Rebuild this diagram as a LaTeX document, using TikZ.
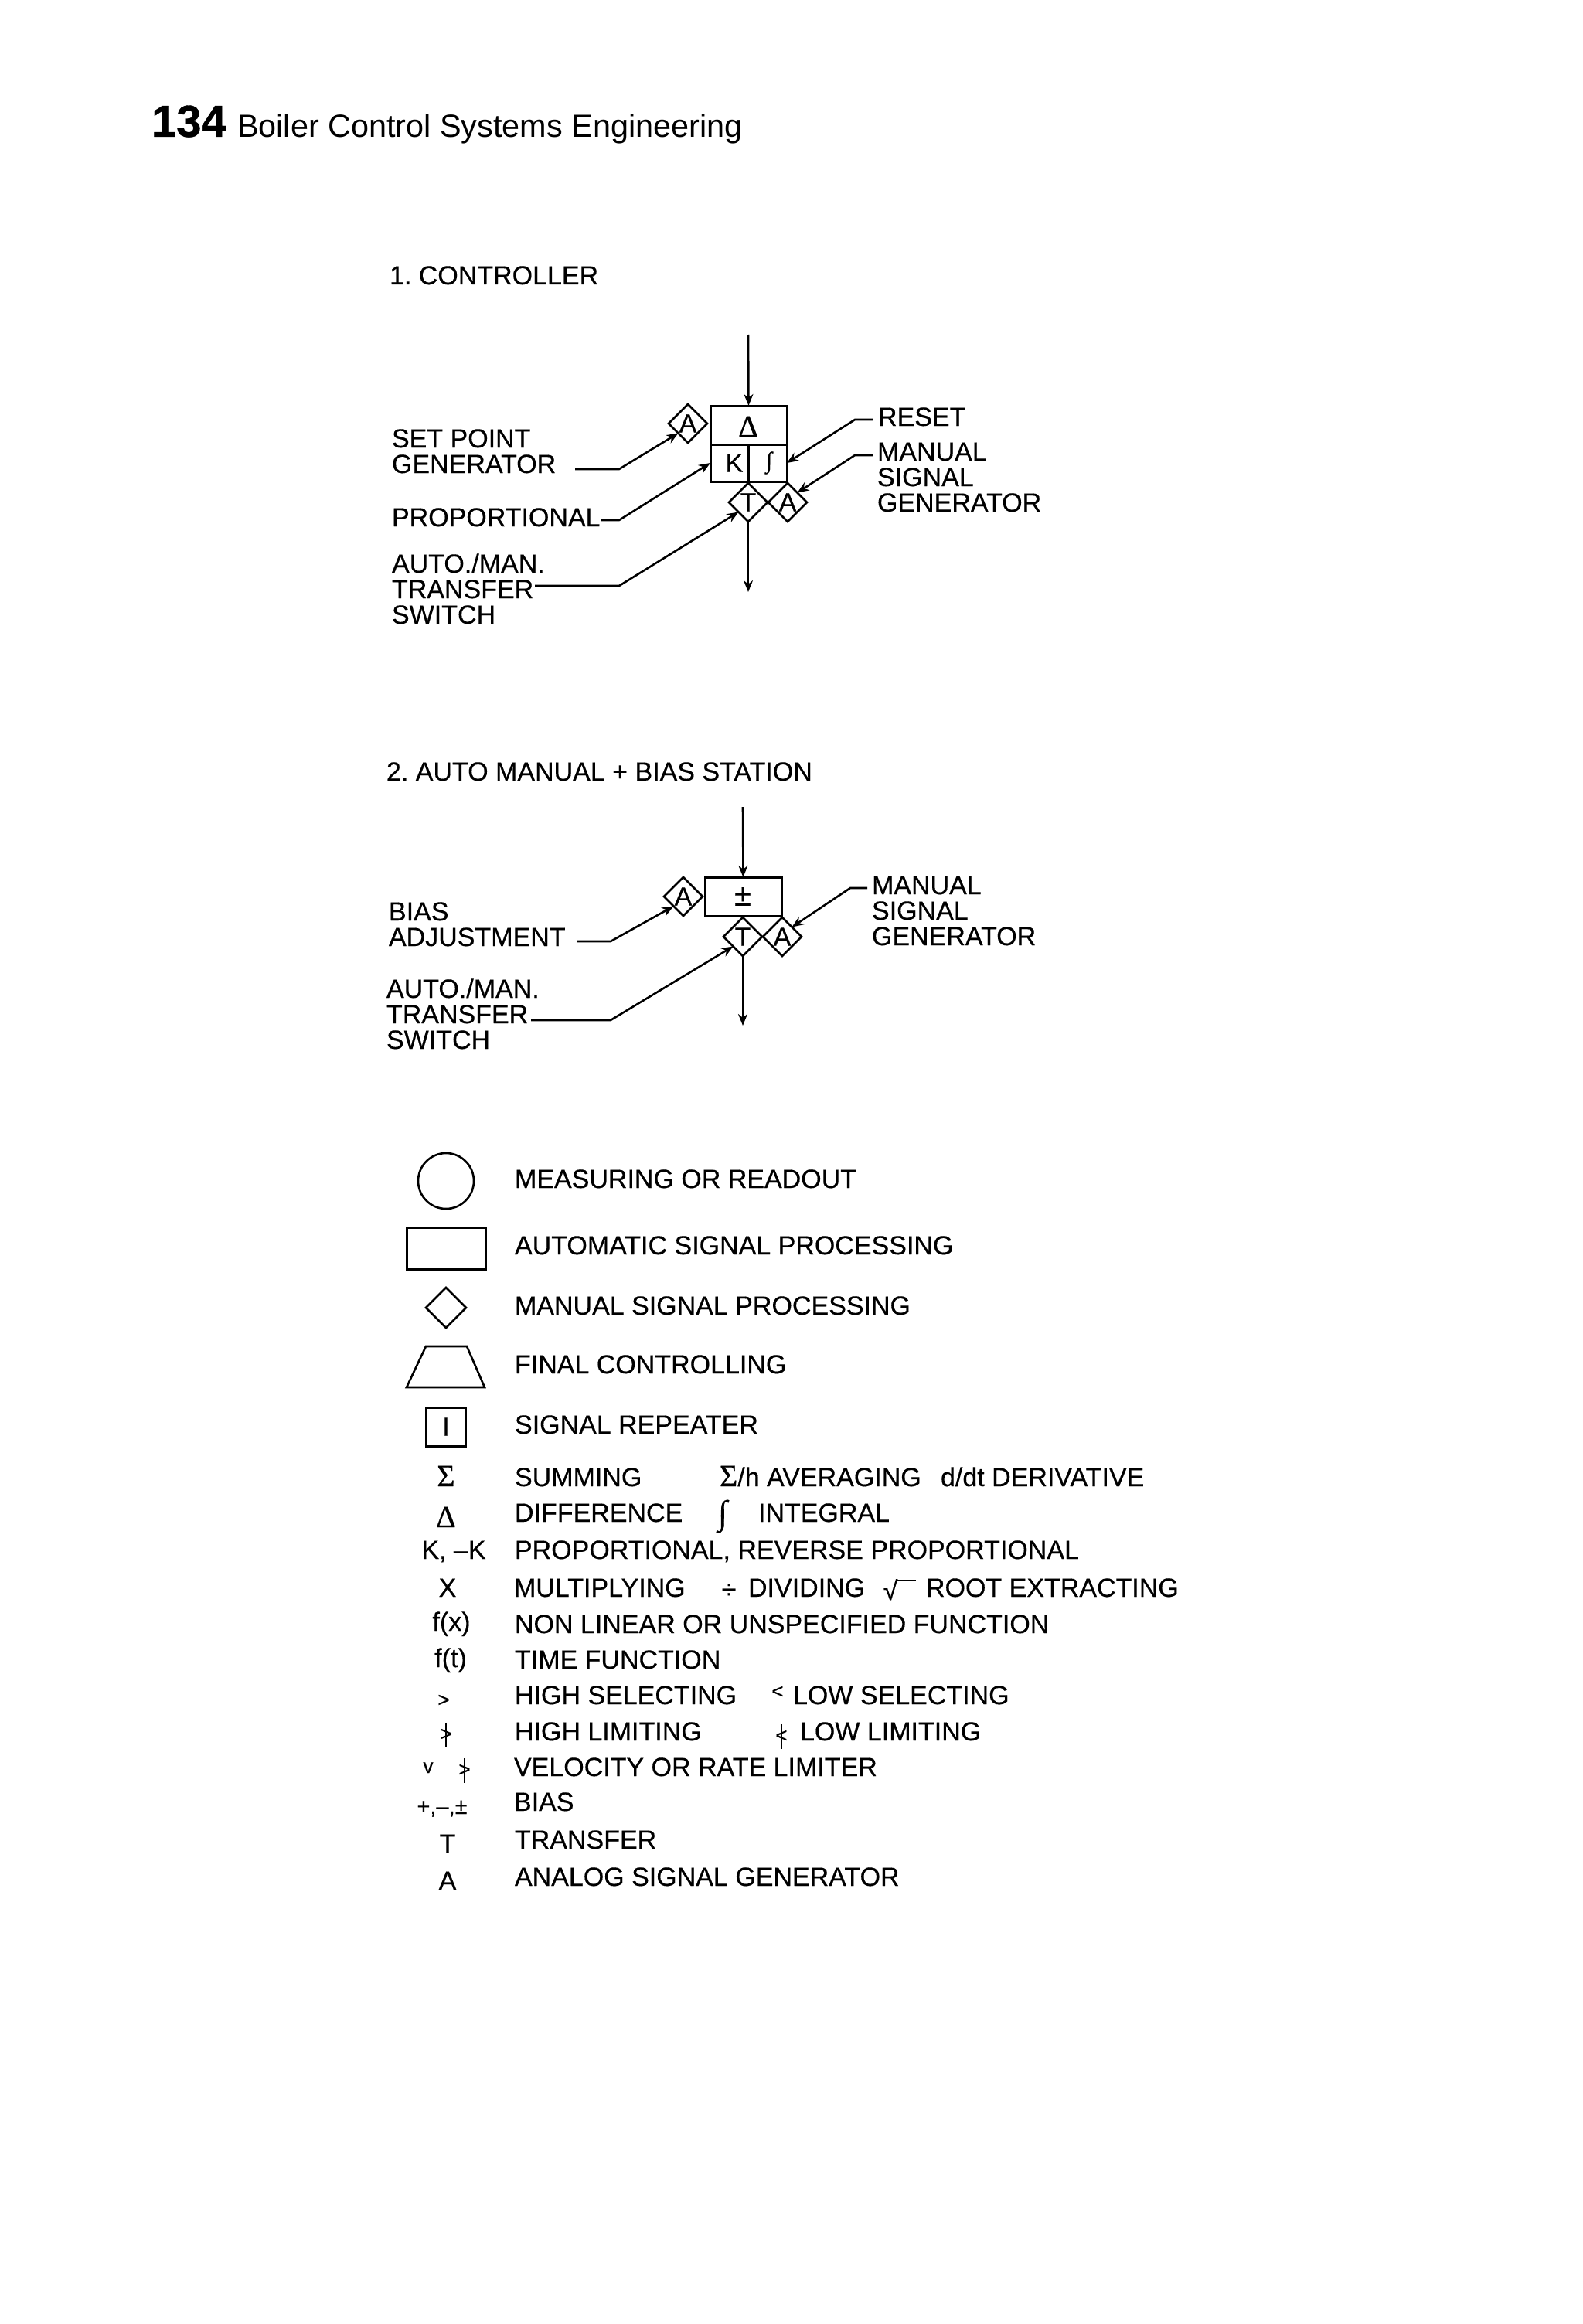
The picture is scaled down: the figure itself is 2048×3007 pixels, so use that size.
\documentclass[tikz,border=0pt]{standalone}
\usepackage{fontspec}
\setmainfont[FakeBold=0.35]{Liberation Sans}
\newfontfamily\symf[FakeBold=0.5]{Liberation Serif}
\newfontfamily\headf{Liberation Sans}
\newfontfamily\pagef[FakeBold=0.6]{Liberation Sans}
\usepackage{tikz}
\usetikzlibrary{arrows.meta,shapes.geometric}
\frenchspacing

\begin{document}
\begin{tikzpicture}[
  x=0.5pt,y=-0.5pt,
  every node/.style={font=\fontsize{17}{16.5}\selectfont,inner sep=0pt,outer sep=0pt},
  txt/.style={anchor=base west},
  lab/.style={anchor=base west,align=left},
  sym/.style={anchor=base},
  small/.style={font=\fontsize{13}{13}\selectfont},
  greek/.style={font=\fontsize{20}{20}\symf},
  integ/.style={font=\fontsize{22}{22}\symf},
  dia/.style={diamond,draw,line width=1.3pt,minimum width=25pt,minimum height=25pt,aspect=1},
  blk/.style={rectangle,draw,line width=1.5pt,minimum width=49.5pt},
  edge/.style={-{Stealth[length=7.5pt,width=6pt]},line width=1.3pt},
  rule/.style={line width=1.2pt}
]
  \useasboundingbox (0,0) rectangle (2048,3007);

  % page heading
  \node[anchor=base west,font=\fontsize{29}{29}\pagef\bfseries] (pg) at (196,177) {134};
  \node[anchor=base west,font=\fontsize{20.7}{25}\headf] (hd) at (307,178) {Boiler Control Systems Engineering};

  % controller
  \node[txt] (t1) at (504,368) {1. CONTROLLER};
  \node[blk,minimum height=25pt] (dbox) at (968.5,550) {};
  \node[blk,minimum height=24pt] (kbox) at (968.5,599) {};
  \node[greek] (dsym) at (968,552) {Δ};
  \node (ksym) at (950,599) {K};
  \node[font=\fontsize{15}{15}\symf] (isym) at (995,599) {∫};
  \draw[rule] (kbox.north)--(kbox.south);
  \node[dia] (dA) at (890,548) {A};
  \node[dia] (dT) at (968,650) {T};
  \node[dia] (dR) at (1019,650) {A};

  \node[lab] (sp) at (507,612) {SET POINT\\GENERATOR};
  \node[txt] (pr) at (507,681) {PROPORTIONAL};
  \node[lab] (am) at (507,807) {AUTO./MAN.\\TRANSFER\\SWITCH};
  \node[txt] (rs) at (1136,551) {RESET};
  \node[lab] (mn) at (1135,662) {MANUAL\\SIGNAL\\GENERATOR};

  \coordinate (cin) at (968,433);
  \coordinate (cout) at (968,766);
  \coordinate (sp0) at (744,607);
  \coordinate (sp1) at (801,607);
  \coordinate (pr0) at (778,673);
  \coordinate (pr1) at (801,673);
  \coordinate (am0) at (692,758);
  \coordinate (am1) at (801,758);
  \coordinate (rs0) at (1129,543);
  \coordinate (rs1) at (1106,543);
  \coordinate (mn0) at (1129,589);
  \coordinate (mn1) at (1106,589);

  \draw[edge] (cin)--(dbox.north);
  \draw[edge] (dT.south)--(cout);
  \draw[edge] (sp0)--(sp1)--(dA.south west);
  \draw[edge] (pr0)--(pr1)--(kbox.west);
  \draw[edge] (am0)--(am1)--(dT.south west);
  \draw[edge] (rs0)--(rs1)--(kbox.east);
  \draw[edge] (mn0)--(mn1)--(dR.north east);

  % auto manual station
  \node[txt] (t2) at (500,1010) {2. AUTO MANUAL + BIAS STATION};
  \node[blk,minimum height=25pt] (bbox) at (961.5,1160) {};
  \node[font=\fontsize{20}{20}\selectfont] (bsym) at (961,1160) {±};
  \node[dia] (bA) at (884,1160) {A};
  \node[dia] (bT) at (961,1212) {T};
  \node[dia] (bR) at (1012,1212) {A};

  \node[lab] (bi) at (503,1224) {BIAS\\ADJUSTMENT};
  \node[lab] (bm) at (500,1357) {AUTO./MAN.\\TRANSFER\\SWITCH};
  \node[lab] (bg) at (1128,1223) {MANUAL\\SIGNAL\\GENERATOR};

  \coordinate (bin) at (961,1044);
  \coordinate (bout) at (961,1327);
  \coordinate (bi0) at (747,1218);
  \coordinate (bi1) at (790,1218);
  \coordinate (bm0) at (687,1320);
  \coordinate (bm1) at (790,1320);
  \coordinate (bg0) at (1122,1149);
  \coordinate (bg1) at (1100,1149);

  \draw[edge] (bin)--(bbox.north);
  \draw[edge] (bT.south)--(bout);
  \draw[edge] (bi0)--(bi1)--(bA.south west);
  \draw[edge] (bm0)--(bm1)--(bT.south west);
  \draw[edge] (bg0)--(bg1)--(bR.north east);

  % legend shapes
  \node[circle,draw,line width=1.3pt,minimum size=36pt] (s1) at (577,1528) {};
  \node[blk,minimum width=51pt,minimum height=27pt] (s2) at (577,1615) {};
  \node[dia,minimum width=26pt,minimum height=26pt] (s3) at (577,1692) {};
  \draw[line width=1.3pt] (551,1742)--(604,1742)--(627,1795)--(526,1795)--cycle;
  \node[blk,minimum width=25.5pt,minimum height=25pt] (s5) at (577,1846) {I};

  \node[txt] (l1) at (666,1537) {MEASURING OR READOUT};
  \node[txt] (l2) at (666,1623) {AUTOMATIC SIGNAL PROCESSING};
  \node[txt] (l3) at (666,1701) {MANUAL SIGNAL PROCESSING};
  \node[txt] (l4) at (666,1777) {FINAL CONTROLLING};
  \node[txt] (l5) at (666,1855) {SIGNAL REPEATER};

  % legend symbols
  \node[sym,greek] (y1) at (577,1923) {Σ};
  \node[sym,greek] (y2) at (577,1976) {Δ};
  \node[sym] (y3) at (587,2017) {K, --K};
  \node[sym] (y4) at (579,2066) {X};
  \node[sym] (y5) at (584,2110) {f(x)};
  \node[sym] (y6) at (583,2157) {f(t)};
  \node[sym,small] (y7) at (574,2208) {>};
  \node[sym,small] (y8) at (577,2252) {>};
  \draw[rule] (y8.north)++(0,-8)--++(0,32);
  \node[sym,font=\fontsize{13}{13}\selectfont] (y9) at (554,2294) {v};
  \node[sym,small] (y10) at (601,2298) {>};
  \draw[rule] (y10.north)++(0,-8)--++(0,32);
  \node[sym,font=\fontsize{14.5}{14.5}\selectfont] (y11) at (572,2347) {+,--,±};
  \node[sym] (y12) at (579,2397) {T};
  \node[sym] (y13) at (579,2445) {A};

  % legend text
  \node[txt] (r1) at (666,1923) {SUMMING};
  \node[txt] (r1b) at (931,1923) {{\fontsize{20}{20}\symf Σ}/h AVERAGING};
  \node[txt] (r1c) at (1217,1923) {d/dt DERIVATIVE};
  \node[txt] (r2) at (666,1969) {DIFFERENCE};
  \node[sym,integ] (r2b) at (935,1972) {∫};
  \node[txt] (r2c) at (981,1969) {INTEGRAL};
  \node[txt] (r3) at (666,2017) {PROPORTIONAL, REVERSE PROPORTIONAL};
  \node[txt] (r4) at (665,2066) {MULTIPLYING};
  \node[sym] (r4b) at (943,2068) {÷};
  \node[txt] (r4c) at (968,2066) {DIVIDING};
  \node[anchor=base] (r4d) at (1152,2070) {√};
  \draw[rule] (r4d.north east)++(0,2)--++(24,0);
  \node[txt] (r4e) at (1198,2066) {ROOT EXTRACTING};
  \node[txt] (r5) at (666,2113) {NON LINEAR OR UNSPECIFIED FUNCTION};
  \node[txt] (r6) at (666,2159) {TIME FUNCTION};
  \node[txt] (r7) at (666,2205) {HIGH SELECTING};
  \node[sym,small] (r7b) at (1006,2197) {<};
  \node[txt] (r7c) at (1026,2205) {LOW SELECTING};
  \node[txt] (r8) at (666,2252) {HIGH LIMITING};
  \node[sym,small] (r8b) at (1011,2254) {<};
  \draw[rule] (r8b.north)++(0,-8)--++(0,32);
  \node[txt] (r8c) at (1035,2252) {LOW LIMITING};
  \node[txt] (r9) at (665,2298) {VELOCITY OR RATE LIMITER};
  \node[txt] (r10) at (665,2343) {BIAS};
  \node[txt] (r11) at (666,2392) {TRANSFER};
  \node[txt] (r12) at (666,2440) {ANALOG SIGNAL GENERATOR};
\end{tikzpicture}
\end{document}
